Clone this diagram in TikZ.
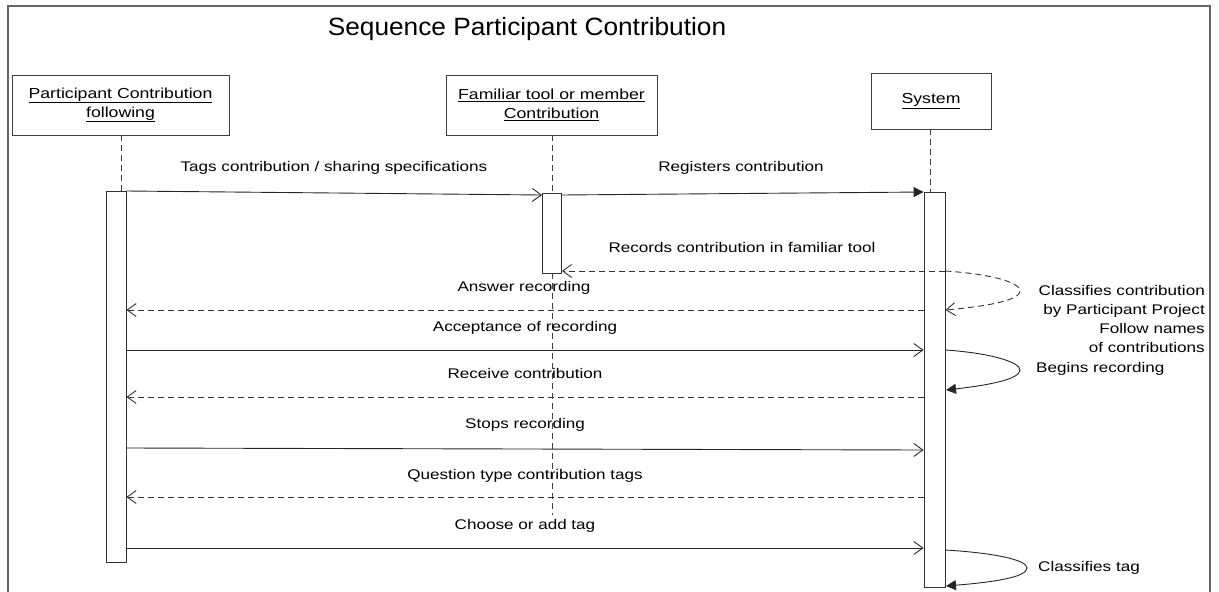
\documentclass[tikz,border=0pt]{standalone}
\usepackage{fontspec}
\setmainfont{Liberation Sans}
\newfontfamily\lblfont[FakeStretch=1.22]{Liberation Sans}
\newfontfamily\ttlfont[FakeStretch=1.05]{Liberation Sans}
\usetikzlibrary{arrows.meta}
\begin{document}
\begin{tikzpicture}[x=1pt,y=-1pt,
  lbl/.style={font=\lblfont\fontsize{14}{19}\selectfont, inner sep=0pt},
  obj/.style={draw=black!75, line width=0.9pt, fill=white, align=center,
    font=\lblfont\fontsize{14.5}{18}\selectfont, inner sep=0pt},
  actbar/.style={draw=black!80, line width=0.9pt, fill=white, minimum width=20pt, inner sep=0pt},
  lifeline/.style={draw=black!75, line width=0.8pt, dash pattern=on 6pt off 4pt},
  call/.style={draw=black!85, line width=0.9pt, -{Straight Barb[length=9pt,width=13pt]}},
  callfill/.style={draw=black!85, line width=0.9pt, -{Triangle[length=10pt,width=10pt]}},
  reply/.style={draw=black!80, line width=0.9pt, dash pattern=on 6pt off 4pt,
    -{Straight Barb[length=9pt,width=13pt]}}]
\useasboundingbox (0,0) rectangle (1219,592);
% outer frame
\draw[black!60, line width=1.3pt] (8,592) -- (8,6) -- (1210,6) -- (1210,592);
% title
\node[font=\ttlfont\fontsize{25}{30}\selectfont, inner sep=0pt] (title) at (527,29) {Sequence Participant Contribution};

% objects
\node[obj, minimum width=217pt, minimum height=60pt] (pc) at (120.5,105)
  {\underline{Participant Contribution}\\[1pt]\underline{following}};
\node[obj, minimum width=211pt, minimum height=60pt] (ft) at (551.5,105)
  {\underline{Familiar tool or member}\\[1pt]\underline{Contribution}};
\node[obj, minimum width=120pt, minimum height=56pt] (sys) at (931,101)
  {\underline{System}};

% activation bars
\node[actbar, minimum height=371pt] (barL) at (116,376.5) {};
\node[actbar, minimum height=80pt, minimum width=19pt] (barM) at (552,233) {};
\node[actbar, minimum height=395pt, minimum width=21pt] (barR) at (934.5,389.5) {};

% lifelines
\coordinate (llL) at (121,191);
\coordinate (llM) at (552,193);
\coordinate (llR) at (930,192);
\coordinate (llMend) at (552,515);
\draw[lifeline] (pc.south -| llL) -- (llL);
\draw[lifeline] (ft.south -| llM) -- (llM);
\draw[lifeline] (barM.south) -- (llMend);
\draw[lifeline] (sys.south -| llR) -- (llR);

% message rows
\coordinate (r1a) at (0,191);  \coordinate (r1b) at (0,195);
\coordinate (r2a) at (0,195);  \coordinate (r2b) at (0,192);
\coordinate (r3) at (0,271);
\coordinate (r4) at (0,310);
\coordinate (r5) at (0,350);
\coordinate (r6) at (0,397);
\coordinate (r7a) at (0,448); \coordinate (r7b) at (0,450);
\coordinate (r8) at (0,497);
\coordinate (r9) at (0,548);
\coordinate (r10) at (0,550);

% messages
\draw[call] (barL.east |- r1a) -- (barM.west |- r1b);
\node[lbl] (m1) at (334,168) {Tags contribution / sharing specifications};

\draw[callfill] (barM.east |- r2a) -- (barR.west |- r2b);
\node[lbl] (m2) at (741,168) {Registers contribution};

\draw[reply] (barR.east |- r3) -- (barM.east |- r3);
\node[lbl] (m3) at (742,247) {Records contribution in familiar tool};

% self call: classification
\draw[reply] (barR.east |- r3) .. controls (990,274) and (1020,282) .. (1020,291)
  .. controls (1020,300) and (990,306) .. (barR.east |- r4);
\node[lbl, align=right, anchor=north east] (m4) at (1205,285)
  {Classifies contribution\\by Participant Project\\Follow names\\of contributions};

\draw[reply] (barR.west |- r4) -- (barL.east |- r4);
\node[lbl] (m5) at (524,288) {Answer recording};

\draw[call] (barL.east |- r5) -- (barR.west |- r5);
\node[lbl] (m6) at (525,328) {Acceptance of recording};

% self call: recording
\draw[callfill] (barR.east |- r5) .. controls (990,353) and (1020,362) .. (1020,370)
  .. controls (1020,379) and (990,385) .. (946,390);
\node[lbl, anchor=west] (m7) at (1036,369) {Begins recording};

\draw[reply] (barR.west |- r6) -- (barL.east |- r6);
\node[lbl] (m8) at (525,373) {Receive contribution};

\draw[call] (barL.east |- r7a) -- (barR.west |- r7b);
\node[lbl] (m9) at (525,425) {Stops recording};

\draw[reply] (barR.west |- r8) -- (barL.east |- r8);
\node[lbl] (m10) at (525,476) {Question type contribution tags};

\draw[call] (barL.east |- r9) -- (barR.west |- r9);
\node[lbl] (m11) at (525,526) {Choose or add tag};

% self call: tag
\draw[callfill] (barR.east |- r10) .. controls (995,553) and (1027,560) .. (1027,568)
  .. controls (1027,577) and (995,582) .. (946,586);
\node[lbl, anchor=west] (m12) at (1038,568) {Classifies tag};
\end{tikzpicture}
\end{document}
